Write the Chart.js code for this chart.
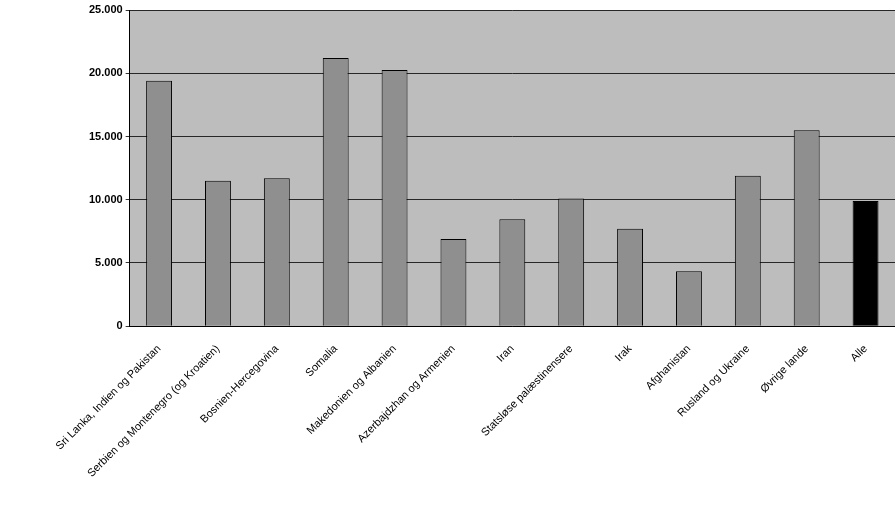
<!DOCTYPE html>
<html><head><meta charset="utf-8">
<script src="https://cdn.jsdelivr.net/npm/chart.js@4/dist/chart.umd.min.js"></script>
<style>html,body{margin:0;background:#fff}#wrap{width:895px;height:521px}</style>
</head><body><div id="wrap"><canvas id="c"></canvas></div>
<script>
const categories = ["Sri Lanka, Indien og Pakistan","Serbien og Montenegro (og Kroatien)","Bosnien-Hercegovina","Somalia","Makedonien og Albanien","Azerbajdzhan og Armenien","Iran","Statsløse palæstinensere","Irak","Afghanistan","Rusland og Ukraine","Øvrige lande","Alle"];
const values = [19400,11500,11700,21200,20250,6900,8450,10100,7700,4350,11900,15500,9900];
const barColors = values.map((v,i)=> i===values.length-1 ? "#000" : "#8f8f8f");

const bgPlugin = {
  id:"bg",
  beforeDraw(chart){
    const {ctx, chartArea:a} = chart;
    ctx.save(); ctx.fillStyle="#bdbdbd";
    ctx.fillRect(a.left,a.top,a.right-a.left,a.bottom-a.top); ctx.restore();
  }
};

new Chart(document.getElementById("c"),{
  type:"bar",
  data:{labels:categories,datasets:[{data:values,backgroundColor:barColors,borderColor:"#000",borderWidth:1,categoryPercentage:1,barPercentage:0.44}]},
  options:{
    responsive:true,maintainAspectRatio:false,animation:false,
    layout:{padding:{top:10,right:0,left:86,bottom:33}},
    plugins:{legend:{display:false},tooltip:{enabled:false}},
    scales:{
      x:{grid:{display:false},border:{color:"#000"},
        ticks:{color:"#000",maxRotation:45,minRotation:45,autoSkip:false,padding:8,font:{family:"Liberation Sans",size:11}}},
      y:{min:0,max:25000,grid:{color:"#000",lineWidth:0.8,drawTicks:true,tickLength:4},border:{color:"#000"},
        ticks:{stepSize:5000,color:"#000",font:{family:"Liberation Sans",size:11,weight:"bold"},
          callback:v=>v.toLocaleString("da-DK")}}
    }
  },
  plugins:[bgPlugin]
});
</script></body></html>
